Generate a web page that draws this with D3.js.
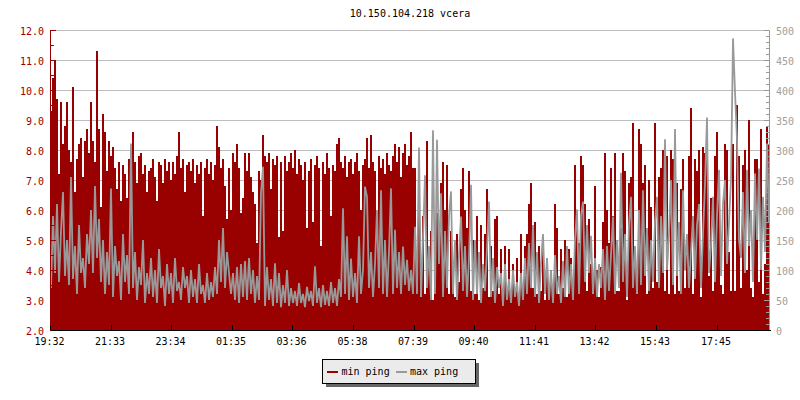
<!DOCTYPE html>
<html><head><meta charset="utf-8">
<script src="https://cdn.jsdelivr.net/npm/d3@7"></script>
<style>
html,body{margin:0;padding:0;background:#fff;}
svg{display:block;}
</style>
</head><body>
<svg id="chart" width="800" height="400"></svg>
<script>
const chartTitle = "10.150.104.218 vcera";
const timeLabels = ["19:32","21:33","23:34","01:35","03:36","05:38","07:39","09:40","11:41","13:42","15:43","17:45"];
const startLabel = "19:32";
const stepMinutes = 4;
const leftTickValues = [2,3,4,5,6,7,8,9,10,11,12];
const rightTickValues = [0,50,100,150,200,250,300,350,400,450,500];
const seriesNames = ["min ping","max ping"];

// min ping (left axis units)
const minPing = [
9.3,10.4,11.0,9.7,7.2,9.6,8.2,8.8,9.6,8.0,
7.6,10.1,6.6,7.7,8.2,8.4,7.1,8.3,8.7,7.9,
9.6,8.3,7.6,11.3,8.7,6.1,9.2,8.6,7.3,8.3,
7.8,8.1,7.4,6.7,7.6,6.3,7.5,7.2,6.4,7.7,
7.0,8.6,7.6,6.9,7.8,7.9,7.2,7.5,6.6,7.3,
7.4,7.7,7.1,6.3,7.6,7.5,6.9,7.7,7.3,7.6,
7.0,7.6,7.2,7.8,8.6,7.4,7.7,6.6,7.5,7.6,
7.3,7.7,6.9,7.5,7.2,7.6,5.8,7.4,7.7,7.2,
7.6,7.0,7.5,8.8,8.1,7.4,7.7,6.8,5.7,7.4,
6.0,7.9,7.6,8.2,7.4,5.9,6.4,7.9,7.3,7.9,
7.1,6.6,6.2,4.9,7.3,7.0,8.5,7.8,7.6,7.9,
6.7,7.7,7.5,7.8,5.1,7.6,5.3,7.8,7.3,7.6,
7.9,7.4,8.0,7.2,7.7,7.5,7.0,7.6,5.4,7.3,
7.7,5.6,7.5,7.8,7.4,4.8,7.6,7.2,7.9,7.4,
5.8,7.5,7.3,8.2,8.4,7.6,7.4,7.8,7.1,7.6,
7.7,7.2,7.6,7.9,7.3,6.0,7.5,7.7,8.4,7.4,
8.5,7.6,7.3,5.6,7.8,7.4,7.7,7.2,7.9,7.5,
7.3,7.8,8.2,7.6,8.1,7.1,7.9,8.2,7.5,7.8,
8.6,7.4,7.4,3.3,7.4,3.1,5.8,3.2,8.3,4.4,
5.3,3.0,3.4,5.9,5.5,6.9,7.6,6.0,7.5,3.2,
5.3,4.3,3.1,5.2,3.6,6.7,7.4,6.0,5.4,7.3,
3.3,5.0,3.2,5.8,3.0,5.5,3.4,5.2,6.7,3.1,
4.8,3.3,5.7,5.8,3.2,4.7,3.0,4.8,3.3,4.7,
3.1,4.2,3.4,4.4,3.0,5.2,3.2,4.8,5.2,6.2,
6.9,3.4,5.6,3.2,4.8,3.3,5.1,3.0,4.2,3.3,
4.0,3.1,6.2,5.4,3.2,4.7,3.4,5.0,3.1,4.7,
4.4,3.2,7.5,5.7,4.9,7.8,7.5,6.2,3.3,5.7,
4.2,3.2,6.8,4.0,3.1,4.1,5.6,7.9,6.0,4.9,
7.4,5.8,7.9,3.3,3.3,5.4,7.9,7.3,3.0,6.9,
7.1,8.9,4.1,3.2,8.7,8.2,6.9,7.5,3.2,7.0,
6.1,3.4,8.9,3.6,7.1,7.4,8.0,3.3,7.8,3.2,
8.0,7.7,3.2,6.9,3.3,6.7,7.7,3.4,4.5,7.8,
9.4,3.2,7.7,7.3,8.0,3.1,8.1,7.9,8.0,3.8,
6.4,3.3,7.8,8.6,7.3,3.5,3.2,8.2,8.0,4.6,
3.3,8.2,3.3,9.5,7.8,3.4,7.5,8.0,4.0,9.0,
3.4,3.1,7.7,7.7,3.6,8.7,3.2,4.2,8.8,8.2
];

// max ping (right axis units)
const maxPing = [
70,190,95,210,80,165,230,90,150,75,
255,85,140,60,175,95,120,70,160,110,
200,95,240,120,185,80,150,60,130,75,
236,55,140,90,115,50,160,80,125,60,
311,70,130,50,105,75,150,45,95,60,
120,55,100,45,135,70,90,40,110,60,
95,45,120,65,80,50,105,70,90,45,
100,55,85,45,110,60,75,45,95,50,
80,55,105,60,150,80,170,70,130,95,
60,95,50,105,45,110,55,115,50,120,
60,100,45,90,50,228,272,40,105,50,
85,40,111,45,95,38,75,45,100,40,
70,45,65,40,78,45,60,38,72,48,
65,40,106,45,70,38,75,42,65,40,
80,45,70,40,85,55,203,60,156,50,
119,55,95,45,156,60,100,239,222,70,
130,55,110,200,70,233,60,150,55,130,
236,60,167,70,130,60,139,75,117,65,
100,60,172,60,304,55,150,258,70,140,
50,333,60,317,110,228,55,165,70,190,
231,60,150,50,125,189,65,140,55,120,
242,50,150,60,130,45,110,65,135,214,
55,120,45,105,70,95,40,110,50,85,
45,100,55,80,40,95,50,120,60,145,
70,175,55,130,45,110,160,60,120,50,
100,45,125,60,90,45,115,55,140,60,
110,50,150,201,60,190,214,80,175,95,
157,60,120,55,110,70,135,50,140,65,
125,189,60,150,70,262,80,160,55,175,
222,70,140,60,200,75,233,90,170,65,
150,80,180,222,70,190,95,318,100,160,
250,75,335,90,180,60,233,100,160,70,
130,190,85,175,210,70,160,244,354,95,
140,222,80,190,267,90,210,250,110,180,
250,486,397,317,150,120,230,95,267,140,
200,80,261,150,269,100,222,130,311,180
];

const RED = "#990000", GRAY = "#999999", FONT = "'DejaVu Sans Mono', monospace";

const toMin = s => { const [h, m] = s.split(":").map(Number); return h * 60 + m; };
const t0 = toMin(startLabel);
const offsetOf = s => (toMin(s) - t0 + 1440) % 1440;

const x = d3.scaleLinear().domain([0, 1440]).range([50, 770]);
const yL = d3.scaleLinear().domain([2, 12]).range([330, 30]);
const yR = d3.scaleLinear().domain([0, 500]).range([330, 30]);

const data = minPing.map((v, i) => ({ t: i * stepMinutes, min: v, max: maxPing[i] }));
const last = data[data.length - 1];
const dataArea = data.concat([{ t: 1440, min: last.min, max: last.max }]);

const svg = d3.select("#chart");

svg.append("defs").append("clipPath").attr("id", "plot")
  .append("rect").attr("x", 50).attr("y", 20).attr("width", 720).attr("height", 311);

// grid
svg.append("g").selectAll("line").data(leftTickValues.filter(v => v > 2)).join("line")
  .attr("x1", 50).attr("x2", 770)
  .attr("y1", d => Math.round(yL(d)) + 0.5).attr("y2", d => Math.round(yL(d)) + 0.5)
  .attr("stroke", "#bdbdbd").attr("stroke-width", 1).attr("shape-rendering", "crispEdges");

const plot = svg.append("g").attr("clip-path", "url(#plot)");

plot.append("path").datum(dataArea)
  .attr("d", d3.area().curve(d3.curveStepAfter).x(d => x(d.t)).y0(yL(2)).y1(d => yL(d.min)))
  .attr("fill", RED).attr("shape-rendering", "crispEdges");

plot.append("path").datum(data)
  .attr("d", d3.line().x(d => x(d.t) + 1).y(d => yR(d.max)))
  .attr("fill", "none").attr("stroke", GRAY).attr("stroke-width", 1.8)
  .attr("stroke-linejoin", "miter").attr("stroke-miterlimit", 2);

// left axis
const gL = svg.append("g").attr("transform", "translate(50,0)")
  .call(d3.axisLeft(yL).tickValues(leftTickValues).tickFormat(d3.format(".1f")).tickSizeInner(-6).tickSizeOuter(0).tickPadding(6));
svg.append("g").attr("transform", "translate(50,0)")
  .call(d3.axisLeft(yL).tickValues(leftTickValues.slice(0, -1).map(v => v + 0.5)).tickFormat("").tickSizeInner(-4).tickSizeOuter(0))
  .call(g => g.select(".domain").remove())
  .selectAll("line").attr("stroke", RED);
gL.select(".domain").attr("stroke", RED);
gL.selectAll("line").attr("stroke", RED);
gL.selectAll("text").attr("fill", RED).attr("dy", "0.42em");

// right axis
const gR = svg.append("g").attr("transform", "translate(769,0)")
  .call(d3.axisRight(yR).tickValues(rightTickValues).tickSizeInner(-5).tickSizeOuter(0).tickPadding(7));
svg.append("g").attr("transform", "translate(769,0)")
  .call(d3.axisRight(yR).tickValues(d3.range(10, 500, 10).filter(v => v % 50 !== 0)).tickFormat("").tickSizeInner(-3).tickSizeOuter(0))
  .call(g => g.select(".domain").remove())
  .selectAll("line").attr("stroke", GRAY);
gR.select(".domain").attr("stroke", GRAY);
gR.selectAll("line").attr("stroke", GRAY);
gR.selectAll("text").attr("fill", "#a0a0a0").attr("dy", "0.42em");

// bottom axis
const gB = svg.append("g").attr("transform", "translate(0,330)")
  .call(d3.axisBottom(x).tickValues(timeLabels.map(offsetOf))
    .tickFormat((d, i) => timeLabels[i]).tickSizeInner(-5).tickSizeOuter(0).tickPadding(8));
gB.selectAll("text").attr("fill", "#000").attr("dx", "-0.1em");
gB.select(".domain").attr("stroke", "#000");
gB.selectAll("line").attr("stroke", "#000");

svg.selectAll("g").attr("font-family", FONT).attr("font-size", 10);
svg.selectAll(".tick line, .domain").attr("shape-rendering", "crispEdges");

// title
svg.append("text").attr("x", 410).attr("y", 17).attr("text-anchor", "middle")
  .attr("font-family", FONT).attr("font-size", 10).attr("fill", "#000").text(chartTitle);

// legend
const lg = svg.append("g");
lg.append("rect").attr("x", 326).attr("y", 363).attr("width", 153).attr("height", 24).attr("fill", "#666").attr("shape-rendering", "crispEdges");
lg.append("rect").attr("x", 322.5).attr("y", 359.5).attr("width", 153).attr("height", 24)
  .attr("fill", "#ebebeb").attr("stroke", "#000").attr("stroke-width", 1).attr("shape-rendering", "crispEdges");
const items = [
  { name: seriesNames[0], color: RED, sx: 327, tx: 341.5 },
  { name: seriesNames[1], color: GRAY, sx: 395.5, tx: 410 }
];
items.forEach(it => {
  lg.append("rect").attr("x", it.sx).attr("y", 371).attr("width", 11).attr("height", 2).attr("fill", it.color).attr("shape-rendering", "crispEdges");
  lg.append("text").attr("x", it.tx).attr("y", 375).attr("font-family", FONT).attr("font-size", 10)
    .attr("fill", "#000").text(it.name);
});
</script>
</body></html>
